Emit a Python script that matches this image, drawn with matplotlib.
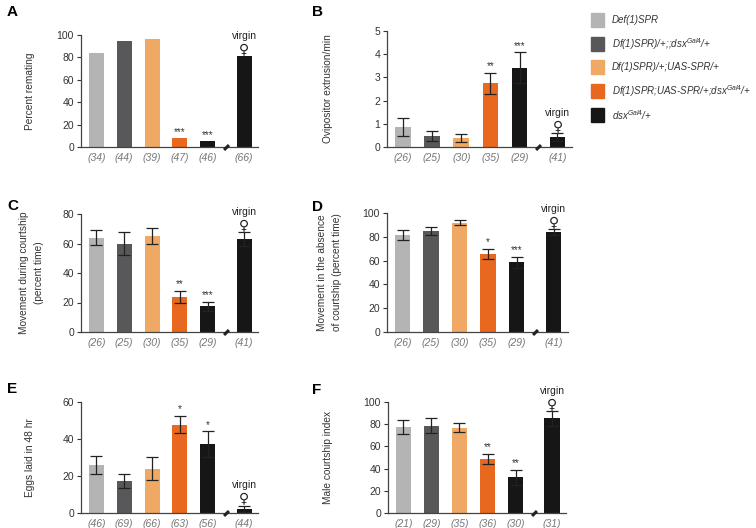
import matplotlib
matplotlib.use("Agg")
import matplotlib.pyplot as plt
from matplotlib.patches import Rectangle

plt.rcParams['font.family'] = ['Liberation Sans', 'DejaVu Sans']
plt.rcParams['mathtext.fontset'] = 'custom'
plt.rcParams['mathtext.rm'] = 'Liberation Sans'
plt.rcParams['mathtext.it'] = 'Liberation Sans:italic'

# genotypes (legend) and bar colours
genotypes = ["Def(1)SPR", r"Df(1)SPR)/+;;dsx$^{Gal4}$/+", "Df(1)SPR)/+;UAS-SPR/+",
             r"Df(1)SPR;UAS-SPR/+;dsx$^{Gal4}$/+", r"dsx$^{Gal4}$/+"]
colors = ['#b4b4b4', '#58585a', '#f0a865', '#e9681f', '#161616', '#161616']

# panel data: means, errors (None = no error bars), n, significance
A_vals = [84, 95, 96, 8, 5, 81]
A_n = [34, 44, 39, 47, 46, 66]
A_sig = ['', '', '', '***', '***', '']

B_vals = [0.87, 0.48, 0.38, 2.74, 3.42, 0.44]
B_err = [0.40, 0.21, 0.17, 0.46, 0.67, 0.16]
B_n = [26, 25, 30, 35, 29, 41]
B_sig = ['', '', '', '**', '***', '']

C_vals = [64, 60, 65, 24, 17.5, 63]
C_err = [5, 8, 5.5, 4, 3, 4.5]
C_n = [26, 25, 30, 35, 29, 41]
C_sig = ['', '', '', '**', '***', '']

D_vals = [81.5, 85, 92, 65.5, 58.5, 84]
D_err = [4, 3.5, 2, 4.5, 4.7, 2.5]
D_n = [26, 25, 30, 35, 29, 41]
D_sig = ['', '', '', '*', '***', '']

E_vals = [26, 17.5, 24, 47.8, 37.3, 2.2]
E_err = [5, 3.8, 6.2, 4.8, 7, 1.8]
E_n = [46, 69, 66, 63, 56, 44]
E_sig = ['', '', '', '*', '*', '']

F_vals = [77.5, 78.7, 77, 49, 32, 85.3]
F_err = [6, 7, 4, 4.5, 6.9, 6.6]
F_n = [21, 29, 35, 36, 30, 31]
F_sig = ['', '', '', '**', '**', '']

xpos = [0, 1, 2, 3, 4, 5.3]

W, H = 756, 528
fig = plt.figure(figsize=(W / 100, H / 100), dpi=100)


def px_axes(x0, x1, ytop, ybot):
    return fig.add_axes([x0 / W, 1 - ybot / H, (x1 - x0) / W, (ybot - ytop) / H])


def panel(ax, vals, err, ns, sig, ymax, step, ylabel, labx):
    ax.bar(xpos, vals, width=0.54, color=colors, zorder=2)
    if err is not None:
        ax.errorbar(xpos, vals, yerr=err, fmt='none', ecolor='#222222',
                    elinewidth=0.9, capsize=4, capthick=0.9, zorder=3)
        tops = [v + e for v, e in zip(vals, err)]
    else:
        tops = list(vals)
    for x, t, s in zip(xpos, tops, sig):
        if s:
            ax.annotate(s, (x, t), xytext=(0, 1), textcoords='offset points',
                        ha='center', va='bottom', fontsize=7, color='#333333')
    ax.annotate('\u2640', (xpos[-1], tops[-1]), xytext=(0, 0), textcoords='offset points',
                ha='center', va='bottom', fontsize=10, color='#222222',
                family=['DejaVu Sans'], fontweight='bold')
    ax.annotate('virgin', (xpos[-1], tops[-1]), xytext=(0, 11), textcoords='offset points',
                ha='center', va='bottom', fontsize=7.5, color='#222222')
    ax.set_xlim(-0.55, 5.8)
    ax.set_ylim(0, ymax)
    ax.set_yticks([i * step for i in range(int(round(ymax / step)) + 1)])
    ax.set_xticks(xpos)
    ax.set_xticklabels(['(%d)' % n for n in ns], fontstyle='italic', color='#777777',
                       fontsize=7.5)
    ax.tick_params(axis='x', length=0, pad=4)
    ax.tick_params(axis='y', length=3, width=0.8, labelsize=7.5, colors='#333333', pad=2)
    for s in ['top', 'right']:
        ax.spines[s].set_visible(False)
    for s in ['left', 'bottom']:
        ax.spines[s].set_linewidth(0.9)
        ax.spines[s].set_color('#444444')
    ax.plot([4.65], [0], marker=(2, 0, -45), markersize=5, mew=2.2, color='#222222',
            clip_on=False, zorder=4)
    ax.set_ylabel(ylabel, fontsize=7.3, color='#333333', linespacing=1.6)
    ax.yaxis.set_label_coords(-labx, 0.5)


axA = px_axes(81, 258, 35, 147)
axB = px_axes(387, 572, 31, 147)
axC = px_axes(81, 258, 214, 332)
axD = px_axes(387, 568, 213, 332)
axE = px_axes(81, 258, 402, 513)
axF = px_axes(388, 566, 402, 513)

panel(axA, A_vals, None, A_n, A_sig, 100, 20, 'Percent remating', 0.26)
panel(axB, B_vals, B_err, B_n, B_sig, 5, 1, 'Ovipositor extrusion/min', 0.29)
panel(axC, C_vals, C_err, C_n, C_sig, 80, 20, 'Movement during courtship\n(percent time)', 0.21)
panel(axD, D_vals, D_err, D_n, D_sig, 100, 20, 'Movement in the absence\nof courtship (percent time)', 0.25)
panel(axE, E_vals, E_err, E_n, E_sig, 60, 20, 'Eggs laid in 48 hr', 0.26)
panel(axF, F_vals, F_err, F_n, F_sig, 100, 20, 'Male courtship index', 0.31)

# panel letters
for letter, lx, ly in [('A', 7, 5), ('B', 312, 5), ('C', 7, 199),
                       ('D', 312, 200), ('E', 7, 382), ('F', 312, 383)]:
    fig.text(lx / W, 1 - ly / H, letter, fontsize=11, fontweight='bold',
             va='top', ha='left')

# legend drawn by hand
for i, lab in enumerate(genotypes):
    yc = 20 + i * 23.7
    fig.add_artist(Rectangle((591 / W, 1 - (yc + 7) / H), 13 / W, 14 / H,
                             transform=fig.transFigure, color=colors[i]))
    fig.text(612 / W, 1 - yc / H, lab, fontsize=7, fontstyle='italic',
             color='#333333', va='center', ha='left')

fig.savefig('out.png', dpi=100)
